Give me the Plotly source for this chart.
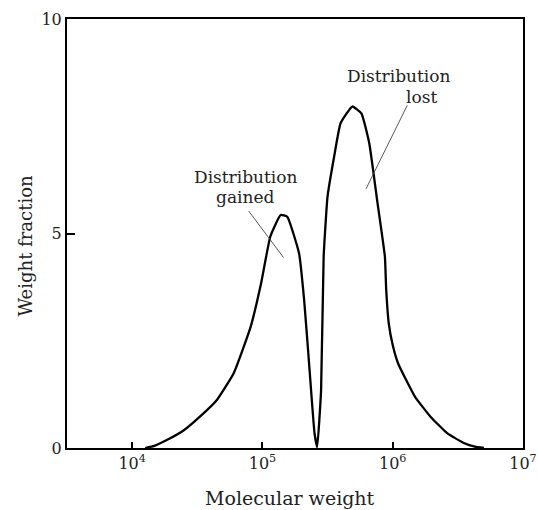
import plotly.graph_objects as go

# Molecular weight (g/mol) and weight fraction
mol_weight = [12600, 14800, 18600, 25100, 33100, 44700, 60300, 81300, 97700,
              115000, 138000, 155000, 191000, 209000, 229000, 251000, 263000,
              282000, 295000, 316000, 355000, 398000, 490000, 575000, 661000,
              759000, 871000, 891000, 933000, 1000000, 1100000, 1480000,
              1950000, 2630000, 3550000, 4270000, 5010000]
weight_fraction = [0.0, 0.05, 0.19, 0.42, 0.73, 1.12, 1.75, 2.83, 3.84,
                   4.93, 5.43, 5.39, 4.54, 3.45, 1.90, 0.35, 0.02,
                   1.35, 4.46, 5.86, 6.79, 7.57, 7.96, 7.80, 7.10,
                   5.78, 4.46, 3.70, 2.90, 2.40, 1.97, 1.20,
                   0.73, 0.34, 0.11, 0.03, 0.0]

x_tickvals = [1e4, 1e5, 1e6, 1e7]
x_ticktext = ["10<sup>4</sup>", "10<sup>5</sup>", "10<sup>6</sup>", "10<sup>7</sup>"]
y_tickvals = [0, 5, 10]
y_ticktext = ["0", "5", "10"]

FONT = "DejaVu Serif"
TXT = "#222"

fig = go.Figure()
fig.add_trace(go.Scatter(
    x=mol_weight, y=weight_fraction, mode="lines",
    line=dict(color="black", width=2.3, shape="spline", smoothing=0.4),
    showlegend=False, hoverinfo="skip",
))

annotations = [
    # labels
    dict(x=4.874, y=6.32, text="Distribution", showarrow=False,
         font=dict(family=FONT, size=17, color=TXT)),
    dict(x=4.866, y=5.85, text="gained", showarrow=False,
         font=dict(family=FONT, size=17, color=TXT)),
    dict(x=6.048, y=8.67, text="Distribution", showarrow=False,
         font=dict(family=FONT, size=17, color=TXT)),
    dict(x=6.224, y=8.18, text="lost", showarrow=False,
         font=dict(family=FONT, size=17, color=TXT)),
    # leader lines
    dict(x=5.162, y=4.44, ax=-36, ay=-48, text="", showarrow=True,
         arrowhead=0, arrowwidth=0.9, arrowcolor="#444"),
    dict(x=5.795, y=6.04, ax=42, ay=-85, text="", showarrow=True,
         arrowhead=0, arrowwidth=0.9, arrowcolor="#444"),
    # axis titles
    dict(xref="paper", yref="paper", x=0.489, y=-0.117, yanchor="middle",
         text="Molecular weight", showarrow=False,
         font=dict(family=FONT, size=19, color=TXT)),
    dict(xref="paper", yref="paper", x=-0.092, y=0.47, xanchor="center",
         yanchor="middle", textangle=-90,
         text="Weight fraction", showarrow=False,
         font=dict(family=FONT, size=18, color=TXT)),
]

fig.update_layout(
    width=538, height=510,
    margin=dict(l=67, r=15, t=19, b=62),
    paper_bgcolor="white", plot_bgcolor="white",
    font=dict(family=FONT, size=15, color=TXT),
    annotations=annotations,
    xaxis=dict(
        type="log", range=[3.5, 7],
        tickvals=x_tickvals, ticktext=x_ticktext,
        ticks="inside", ticklen=6, tickwidth=1.5, tickcolor="black",
        showline=True, linecolor="black", linewidth=2, mirror=True,
        showgrid=False, zeroline=False, automargin=False,
        tickfont=dict(family=FONT, size=16, color=TXT),
    ),
    yaxis=dict(
        range=[0, 10],
        tickvals=y_tickvals, ticktext=y_ticktext,
        ticks="inside", ticklen=8, tickwidth=1.5, tickcolor="black",
        showline=True, linecolor="black", linewidth=2, mirror=True,
        showgrid=False, zeroline=False, automargin=False,
        tickfont=dict(family=FONT, size=16, color=TXT),
    ),
)

fig.write_html("out.html",
               config={"displayModeBar": False},
               post_script="document.body.style.margin='0';document.body.style.overflow='hidden';")
